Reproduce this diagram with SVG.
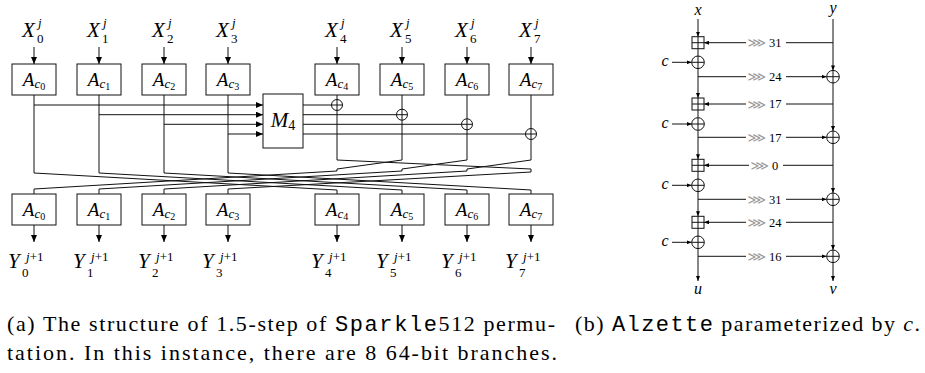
<svg xmlns="http://www.w3.org/2000/svg" width="925" height="373" viewBox="0 0 925 373">
<style>
.ln{stroke:#111;stroke-width:1;fill:none}
.bx{stroke:#111;stroke-width:1;fill:#fff}
.sr{font-family:"Liberation Serif","DejaVu Serif",serif;fill:#000}
.it{font-style:italic}
.mono{font-family:"Liberation Mono","DejaVu Sans Mono",monospace}
.rot{font-family:"DejaVu Sans",sans-serif;fill:#9a9a9a;font-size:13px;text-anchor:end}
.num{font-family:"Liberation Serif",serif;font-size:12.5px;fill:#000}
</style>
<defs>
<marker id="ah" markerWidth="7" markerHeight="6" refX="7" refY="3" orient="auto" markerUnits="userSpaceOnUse"><path d="M0,0 L7,3 L0,6 z" fill="#000"/></marker>
<marker id="as" markerWidth="5" markerHeight="4" refX="5" refY="2" orient="auto" markerUnits="userSpaceOnUse"><path d="M0,0 L5,2 L0,4 z" fill="#000"/></marker>
<g id="xor"><circle cx="0" cy="0" r="5.5" class="bx"/><path d="M-5.5,0 H5.5 M0,-5.5 V5.5" class="ln"/></g>
<g id="xor2"><circle cx="0" cy="0" r="6.3" class="bx"/><path d="M-6.3,0 H6.3 M0,-6.3 V6.3" class="ln"/></g>
<g id="add"><rect x="-6" y="-6" width="12" height="12" class="bx"/><path d="M-6,0 H6 M0,-6 V6" class="ln"/></g>
</defs>

<!-- ===== (a) Sparkle512 ===== -->
<g id="connectors-a">
  <!-- input arrows -->
  <path class="ln" marker-end="url(#ah)" d="M34,47 V64"/>
  <path class="ln" marker-end="url(#ah)" d="M99,47 V64"/>
  <path class="ln" marker-end="url(#ah)" d="M164,47 V64"/>
  <path class="ln" marker-end="url(#ah)" d="M228,47 V64"/>
  <path class="ln" marker-end="url(#ah)" d="M337,47 V64"/>
  <path class="ln" marker-end="url(#ah)" d="M402,47 V64"/>
  <path class="ln" marker-end="url(#ah)" d="M467,47 V64"/>
  <path class="ln" marker-end="url(#ah)" d="M531,47 V64"/>
  <!-- left branches down -->
  <path class="ln" d="M34,95 V173 M99,95 V173 M164,95 V173 M228,95 V173"/>
  <!-- into M4 -->
  <path class="ln" marker-end="url(#ah)" d="M34,105 H263"/>
  <path class="ln" marker-end="url(#ah)" d="M99,114.7 H263"/>
  <path class="ln" marker-end="url(#ah)" d="M164,124.3 H263"/>
  <path class="ln" marker-end="url(#ah)" d="M228,134 H263"/>
  <!-- out of M4 -->
  <path class="ln" d="M303,105 H337 M303,114.7 H402 M303,124.3 H467 M303,134 H531"/>
  <!-- right branches down -->
  <path class="ln" d="M337,95 V160 M402,95 V160 M467,95 V160 M531,95 V160"/>
  <!-- left to right swap -->
  <path class="ln" d="M34,173 L337,190 V194 M99,173 L402,190 V194 M164,173 L467,190 V194 M228,173 L531,190 V194"/>
  <!-- right to left with rotation -->
  <path class="ln" d="M402,160 L337,169 V171 L34,189 V194"/>
  <path class="ln" d="M467,160 L402,169 V171 L99,189 V194"/>
  <path class="ln" d="M531,160 L467,169 V171 L164,189 V194"/>
  <path class="ln" d="M337,160 L531,169 V172 L228,189 V194"/>
  <!-- output arrows -->
  <path class="ln" marker-end="url(#ah)" d="M34,225 V242"/>
  <path class="ln" marker-end="url(#ah)" d="M99,225 V242"/>
  <path class="ln" marker-end="url(#ah)" d="M164,225 V242"/>
  <path class="ln" marker-end="url(#ah)" d="M228,225 V242"/>
  <path class="ln" marker-end="url(#ah)" d="M337,225 V242"/>
  <path class="ln" marker-end="url(#ah)" d="M402,225 V242"/>
  <path class="ln" marker-end="url(#ah)" d="M467,225 V242"/>
  <path class="ln" marker-end="url(#ah)" d="M531,225 V242"/>
  <use href="#xor" x="337" y="105"/>
  <use href="#xor" x="402" y="114.7"/>
  <use href="#xor" x="467" y="124.3"/>
  <use href="#xor" x="531" y="134"/>
</g>

<g id="in-labels" class="sr">
  <text x="22" y="37" font-size="21" class="it">X</text><text x="38" y="27" font-size="13" class="it">j</text><text x="37" y="43" font-size="13">0</text>
  <text x="87" y="37" font-size="21" class="it">X</text><text x="103" y="27" font-size="13" class="it">j</text><text x="102" y="43" font-size="13">1</text>
  <text x="152" y="37" font-size="21" class="it">X</text><text x="168" y="27" font-size="13" class="it">j</text><text x="167" y="43" font-size="13">2</text>
  <text x="216" y="37" font-size="21" class="it">X</text><text x="232" y="27" font-size="13" class="it">j</text><text x="231" y="43" font-size="13">3</text>
  <text x="325" y="37" font-size="21" class="it">X</text><text x="341" y="27" font-size="13" class="it">j</text><text x="340" y="43" font-size="13">4</text>
  <text x="390" y="37" font-size="21" class="it">X</text><text x="406" y="27" font-size="13" class="it">j</text><text x="405" y="43" font-size="13">5</text>
  <text x="455" y="37" font-size="21" class="it">X</text><text x="471" y="27" font-size="13" class="it">j</text><text x="470" y="43" font-size="13">6</text>
  <text x="519" y="37" font-size="21" class="it">X</text><text x="535" y="27" font-size="13" class="it">j</text><text x="534" y="43" font-size="13">7</text>
</g>

<g id="A-top">
  <g id="at0"><rect class="bx" x="12" y="64" width="44" height="31"/><text class="sr" x="34" y="86" text-anchor="middle"><tspan class="it" font-size="19">A</tspan><tspan class="it" font-size="13" dy="2">c</tspan><tspan font-size="10" dy="2">0</tspan></text></g>
  <g id="at1"><rect class="bx" x="77" y="64" width="44" height="31"/><text class="sr" x="99" y="86" text-anchor="middle"><tspan class="it" font-size="19">A</tspan><tspan class="it" font-size="13" dy="2">c</tspan><tspan font-size="10" dy="2">1</tspan></text></g>
  <g id="at2"><rect class="bx" x="142" y="64" width="44" height="31"/><text class="sr" x="164" y="86" text-anchor="middle"><tspan class="it" font-size="19">A</tspan><tspan class="it" font-size="13" dy="2">c</tspan><tspan font-size="10" dy="2">2</tspan></text></g>
  <g id="at3"><rect class="bx" x="206" y="64" width="44" height="31"/><text class="sr" x="228" y="86" text-anchor="middle"><tspan class="it" font-size="19">A</tspan><tspan class="it" font-size="13" dy="2">c</tspan><tspan font-size="10" dy="2">3</tspan></text></g>
  <g id="at4"><rect class="bx" x="315" y="64" width="44" height="31"/><text class="sr" x="337" y="86" text-anchor="middle"><tspan class="it" font-size="19">A</tspan><tspan class="it" font-size="13" dy="2">c</tspan><tspan font-size="10" dy="2">4</tspan></text></g>
  <g id="at5"><rect class="bx" x="380" y="64" width="44" height="31"/><text class="sr" x="402" y="86" text-anchor="middle"><tspan class="it" font-size="19">A</tspan><tspan class="it" font-size="13" dy="2">c</tspan><tspan font-size="10" dy="2">5</tspan></text></g>
  <g id="at6"><rect class="bx" x="445" y="64" width="44" height="31"/><text class="sr" x="467" y="86" text-anchor="middle"><tspan class="it" font-size="19">A</tspan><tspan class="it" font-size="13" dy="2">c</tspan><tspan font-size="10" dy="2">6</tspan></text></g>
  <g id="at7"><rect class="bx" x="509" y="64" width="44" height="31"/><text class="sr" x="531" y="86" text-anchor="middle"><tspan class="it" font-size="19">A</tspan><tspan class="it" font-size="13" dy="2">c</tspan><tspan font-size="10" dy="2">7</tspan></text></g>
</g>

<g id="M4"><rect class="bx" x="263" y="94" width="40" height="54"/><text class="sr" x="283" y="127" text-anchor="middle"><tspan class="it" font-size="21">M</tspan><tspan font-size="14" dy="3">4</tspan></text></g>

<g id="A-bot">
  <g id="ab0"><rect class="bx" x="12" y="194" width="44" height="31"/><text class="sr" x="34" y="216" text-anchor="middle"><tspan class="it" font-size="19">A</tspan><tspan class="it" font-size="13" dy="2">c</tspan><tspan font-size="10" dy="2">0</tspan></text></g>
  <g id="ab1"><rect class="bx" x="77" y="194" width="44" height="31"/><text class="sr" x="99" y="216" text-anchor="middle"><tspan class="it" font-size="19">A</tspan><tspan class="it" font-size="13" dy="2">c</tspan><tspan font-size="10" dy="2">1</tspan></text></g>
  <g id="ab2"><rect class="bx" x="142" y="194" width="44" height="31"/><text class="sr" x="164" y="216" text-anchor="middle"><tspan class="it" font-size="19">A</tspan><tspan class="it" font-size="13" dy="2">c</tspan><tspan font-size="10" dy="2">2</tspan></text></g>
  <g id="ab3"><rect class="bx" x="206" y="194" width="44" height="31"/><text class="sr" x="228" y="216" text-anchor="middle"><tspan class="it" font-size="19">A</tspan><tspan class="it" font-size="13" dy="2">c</tspan><tspan font-size="10" dy="2">3</tspan></text></g>
  <g id="ab4"><rect class="bx" x="315" y="194" width="44" height="31"/><text class="sr" x="337" y="216" text-anchor="middle"><tspan class="it" font-size="19">A</tspan><tspan class="it" font-size="13" dy="2">c</tspan><tspan font-size="10" dy="2">4</tspan></text></g>
  <g id="ab5"><rect class="bx" x="380" y="194" width="44" height="31"/><text class="sr" x="402" y="216" text-anchor="middle"><tspan class="it" font-size="19">A</tspan><tspan class="it" font-size="13" dy="2">c</tspan><tspan font-size="10" dy="2">5</tspan></text></g>
  <g id="ab6"><rect class="bx" x="445" y="194" width="44" height="31"/><text class="sr" x="467" y="216" text-anchor="middle"><tspan class="it" font-size="19">A</tspan><tspan class="it" font-size="13" dy="2">c</tspan><tspan font-size="10" dy="2">6</tspan></text></g>
  <g id="ab7"><rect class="bx" x="509" y="194" width="44" height="31"/><text class="sr" x="531" y="216" text-anchor="middle"><tspan class="it" font-size="19">A</tspan><tspan class="it" font-size="13" dy="2">c</tspan><tspan font-size="10" dy="2">7</tspan></text></g>
</g>

<g id="out-labels" class="sr">
  <text x="8" y="268" font-size="21" class="it">Y</text><text x="26" y="261" font-size="13"><tspan class="it">j</tspan>+1</text><text x="22" y="277" font-size="13">0</text>
  <text x="73" y="268" font-size="21" class="it">Y</text><text x="91" y="261" font-size="13"><tspan class="it">j</tspan>+1</text><text x="87" y="277" font-size="13">1</text>
  <text x="138" y="268" font-size="21" class="it">Y</text><text x="156" y="261" font-size="13"><tspan class="it">j</tspan>+1</text><text x="152" y="277" font-size="13">2</text>
  <text x="202" y="268" font-size="21" class="it">Y</text><text x="220" y="261" font-size="13"><tspan class="it">j</tspan>+1</text><text x="216" y="277" font-size="13">3</text>
  <text x="311" y="268" font-size="21" class="it">Y</text><text x="329" y="261" font-size="13"><tspan class="it">j</tspan>+1</text><text x="325" y="277" font-size="13">4</text>
  <text x="376" y="268" font-size="21" class="it">Y</text><text x="394" y="261" font-size="13"><tspan class="it">j</tspan>+1</text><text x="390" y="277" font-size="13">5</text>
  <text x="441" y="268" font-size="21" class="it">Y</text><text x="459" y="261" font-size="13"><tspan class="it">j</tspan>+1</text><text x="455" y="277" font-size="13">6</text>
  <text x="505" y="268" font-size="21" class="it">Y</text><text x="523" y="261" font-size="13"><tspan class="it">j</tspan>+1</text><text x="519" y="277" font-size="13">7</text>
</g>

<!-- ===== (b) Alzette ===== -->
<g id="connectors-b">
  <!-- x column -->
  <path class="ln" marker-end="url(#as)" d="M698,19 V36.7"/>
  <path class="ln" d="M698,48.7 V56"/>
  <path class="ln" marker-end="url(#as)" d="M698,68.6 V98"/>
  <path class="ln" d="M698,110 V117.7"/>
  <path class="ln" marker-end="url(#as)" d="M698,130.3 V159.3"/>
  <path class="ln" d="M698,171.3 V179"/>
  <path class="ln" marker-end="url(#as)" d="M698,191.6 V216.3"/>
  <path class="ln" d="M698,228.3 V236"/>
  <path class="ln" marker-end="url(#as)" d="M698,248.6 V281"/>
  <!-- y column -->
  <path class="ln" marker-end="url(#as)" d="M833,19 V70.4"/>
  <path class="ln" marker-end="url(#as)" d="M833,83 V131"/>
  <path class="ln" marker-end="url(#as)" d="M833,143.6 V193"/>
  <path class="ln" marker-end="url(#as)" d="M833,205.6 V250"/>
  <path class="ln" marker-end="url(#as)" d="M833,262.6 V281"/>
  <!-- c inputs -->
  <path class="ln" marker-end="url(#as)" d="M672,62.3 H691.7"/>
  <path class="ln" marker-end="url(#as)" d="M672,124 H691.7"/>
  <path class="ln" marker-end="url(#as)" d="M672,185.3 H691.7"/>
  <path class="ln" marker-end="url(#as)" d="M672,242.3 H691.7"/>
  <!-- y -> add (rotate) -->
  <path class="ln" d="M833,42.7 H786"/><path class="ln" marker-end="url(#as)" d="M746,42.7 H704"/>
  <path class="ln" d="M833,104 H786"/><path class="ln" marker-end="url(#as)" d="M746,104 H704"/>
  <path class="ln" d="M833,165.3 H783"/><path class="ln" marker-end="url(#as)" d="M749,165.3 H704"/>
  <path class="ln" d="M833,222.3 H786"/><path class="ln" marker-end="url(#as)" d="M746,222.3 H704"/>
  <!-- x -> xor (rotate) -->
  <path class="ln" d="M698,76.7 H746"/><path class="ln" marker-end="url(#as)" d="M786,76.7 H826.7"/>
  <path class="ln" d="M698,137.3 H746"/><path class="ln" marker-end="url(#as)" d="M786,137.3 H826.7"/>
  <path class="ln" d="M698,199.3 H746"/><path class="ln" marker-end="url(#as)" d="M786,199.3 H826.7"/>
  <path class="ln" d="M698,256.3 H746"/><path class="ln" marker-end="url(#as)" d="M786,256.3 H826.7"/>
  <use href="#add" x="698" y="42.7"/>
  <use href="#add" x="698" y="104"/>
  <use href="#add" x="698" y="165.3"/>
  <use href="#add" x="698" y="222.3"/>
  <use href="#xor2" x="698" y="62.3"/>
  <use href="#xor2" x="698" y="124"/>
  <use href="#xor2" x="698" y="185.3"/>
  <use href="#xor2" x="698" y="242.3"/>
  <use href="#xor2" x="833" y="76.7"/>
  <use href="#xor2" x="833" y="137.3"/>
  <use href="#xor2" x="833" y="199.3"/>
  <use href="#xor2" x="833" y="256.3"/>
</g>
<g id="rot-labels">
  <text class="rot" x="766" y="47.2">⋙</text><text class="num" x="769" y="47">31</text>
  <text class="rot" x="766" y="81.2">⋙</text><text class="num" x="769" y="81">24</text>
  <text class="rot" x="766" y="108.5">⋙</text><text class="num" x="769" y="108.3">17</text>
  <text class="rot" x="766" y="141.8">⋙</text><text class="num" x="769" y="141.6">17</text>
  <text class="rot" x="769" y="169.8">⋙</text><text class="num" x="772" y="169.6">0</text>
  <text class="rot" x="766" y="203.8">⋙</text><text class="num" x="769" y="203.6">31</text>
  <text class="rot" x="766" y="226.8">⋙</text><text class="num" x="769" y="226.6">24</text>
  <text class="rot" x="766" y="260.8">⋙</text><text class="num" x="769" y="260.6">16</text>
</g>
<g id="b-labels" class="sr it" font-size="16">
  <text x="698" y="14.5" text-anchor="middle">x</text>
  <text x="833" y="13" text-anchor="middle">y</text>
  <text x="665" y="66" text-anchor="middle">c</text>
  <text x="665" y="127.7" text-anchor="middle">c</text>
  <text x="665" y="189" text-anchor="middle">c</text>
  <text x="665" y="246" text-anchor="middle">c</text>
  <text x="698" y="294" text-anchor="middle">u</text>
  <text x="833" y="294" text-anchor="middle">v</text>
</g>

<!-- captions -->
<g id="captions" class="sr" font-size="22">
  <text x="7" y="331" textLength="548" lengthAdjust="spacing">(a) The structure of 1.5-step of <tspan class="mono">Sparkle</tspan>512 permu-</text>
  <text x="7" y="360" textLength="550" lengthAdjust="spacing">tation. In this instance, there are 8 64-bit branches.</text>
  <text x="575" y="331" textLength="345" lengthAdjust="spacing">(b) <tspan class="mono">Alzette</tspan> parameterized by <tspan class="it">c</tspan>.</text>
</g>
</svg>
